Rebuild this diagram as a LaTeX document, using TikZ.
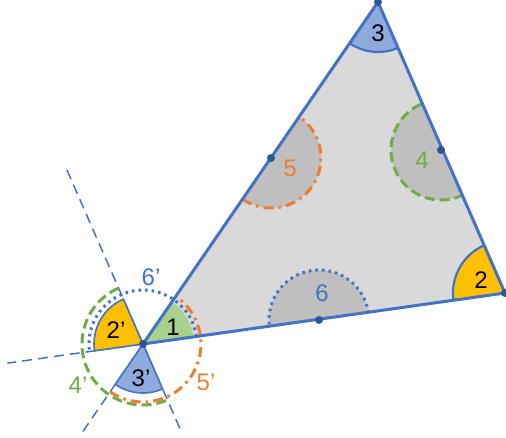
\documentclass[tikz,border=0pt]{standalone}
\usepackage{fontspec}
\setmainfont{Liberation Sans}
\usepackage{xcolor}
\definecolor{edgeblue}{HTML}{4472C4}
\definecolor{dotblue}{HTML}{2F5597}
\definecolor{trigray}{HTML}{D9D9D9}
\definecolor{halfgray}{HTML}{BFBFBF}
\definecolor{orng}{HTML}{ED7D31}
\definecolor{grn}{HTML}{70AD47}
\definecolor{ylw}{HTML}{FFC000}
\definecolor{lblue}{HTML}{8FAADC}
\definecolor{lgrn}{HTML}{A9D18E}
\usetikzlibrary{positioning}

\begin{document}
\begin{tikzpicture}[x=1pt, y=1pt, every node/.style={font=\fontsize{24}{26}\selectfont, inner sep=0pt},
  side/.style={draw=edgeblue, line width=3pt, line join=round},
  ext/.style={draw=edgeblue, line width=1.5pt, dash pattern=on 10pt off 6pt},
  dotline/.style={draw=edgeblue, line width=3pt, dash pattern=on 2.6pt off 4pt},
  dashline/.style={draw=grn, line width=3pt, dash pattern=on 10pt off 5pt},
  dashdotline/.style={draw=orng, line width=3pt, dash pattern=on 10pt off 5pt on 2.6pt off 5pt},
  rim/.style={draw=edgeblue, line width=2.2pt},
  pt/.style={circle, fill=dotblue, minimum size=8pt}]
\useasboundingbox (0,0) rectangle (506,437);
\coordinate (A) at (143,93); \coordinate (B) at (505,144); \coordinate (C) at (378,435);
\coordinate (mAB) at (319,117); \coordinate (mAC) at (271,279); \coordinate (mBC) at (441,287);
\coordinate (e1) at ([shift={(113.6:190)}]A); \coordinate (e2) at ([shift={(293.6:95)}]A);
\coordinate (e3) at ([shift={(235.5:107)}]A); \coordinate (e4) at ([shift={(188.02:137)}]A);
% triangle and half discs
\fill[trigray] (A) -- (B) -- (C) -- cycle;
\fill[halfgray] ([shift={(8.02:50)}]mAB) arc[start angle=8.02, end angle=188.02, radius=50] -- cycle;
\fill[halfgray] ([shift={(-124.5:50)}]mAC) arc[start angle=-124.5, end angle=55.5, radius=50] -- cycle;
\fill[halfgray] ([shift={(113.6:50)}]mBC) arc[start angle=113.6, end angle=293.6, radius=50] -- cycle;
\draw[dotline] ([shift={(8.02:50)}]mAB) arc[start angle=8.02, end angle=188.02, radius=50];
\draw[dashdotline] ([shift={(-124.5:50)}]mAC) arc[start angle=-124.5, end angle=55.5, radius=50];
\draw[dashline] ([shift={(113.6:50)}]mBC) arc[start angle=113.6, end angle=293.6, radius=50];
% angles of the triangle
\fill[lgrn] (A) -- ([shift={(8.02:51)}]A) arc[start angle=8.02, end angle=55.5, radius=51] -- cycle;
\fill[ylw] (B) -- ([shift={(113.6:52)}]B) arc[start angle=113.6, end angle=188.02, radius=52] -- cycle;
\draw[rim] ([shift={(113.6:52)}]B) arc[start angle=113.6, end angle=188.02, radius=52];
\fill[lblue] (C) -- ([shift={(235.5:50)}]C) arc[start angle=235.5, end angle=293.6, radius=50] -- cycle;
\draw[rim] ([shift={(235.5:50)}]C) arc[start angle=235.5, end angle=293.6, radius=50];
% extension lines through A
\draw[ext] (e1) -- (A) -- (e2);
\draw[ext] (A) -- (e3); \draw[ext] (A) -- (e4);
% copied angles at A
\filldraw[fill=ylw, draw=edgeblue, line width=1.6pt] (A) -- ([shift={(113.6:49)}]A) arc[start angle=113.6, end angle=188.02, radius=49] -- cycle;
\filldraw[fill=lblue, draw=edgeblue, line width=1.6pt] (A) -- ([shift={(235.5:49)}]A) arc[start angle=235.5, end angle=293.6, radius=49] -- cycle;
\draw[dotline] ([shift={(8.02:54)}]A) arc[start angle=8.02, end angle=188.02, radius=54];
\draw[dashdotline] ([shift={(-124.5:58)}]A) arc[start angle=-124.5, end angle=55.5, radius=58];
\draw[dashline] ([shift={(113.6:61)}]A) arc[start angle=113.6, end angle=293.6, radius=61];
\draw[side] (A) -- (B) -- (C) -- cycle;
% points
\node[pt] (pA) at (A) {}; \node[pt] (pB) at (B) {}; \node[pt] (pC) at (C) {};
\node[pt] (pAB) at (mAB) {}; \node[pt] (pAC) at (mAC) {}; \node[pt] (pBC) at (mBC) {};
% labels
\node (l1) at (173,110) {1}; \node (l2) at (481,157) {2}; \node (l3) at (378,404) {3};
\node[text=grn] (l4) at (422,277) {4}; \node[text=orng] (l5) at (290,269) {5};
\node[text=edgeblue] (l6) at (322,144) {6};
\node (l2p) at (116,107) {2’}; \node (l3p) at (141,59) {3’};
\node[text=edgeblue] (l6p) at (151,160) {6’}; \node[text=grn] (l4p) at (78,52) {4’};
\node[text=orng] (l5p) at (206,55) {5’};
\end{tikzpicture}
\end{document}
